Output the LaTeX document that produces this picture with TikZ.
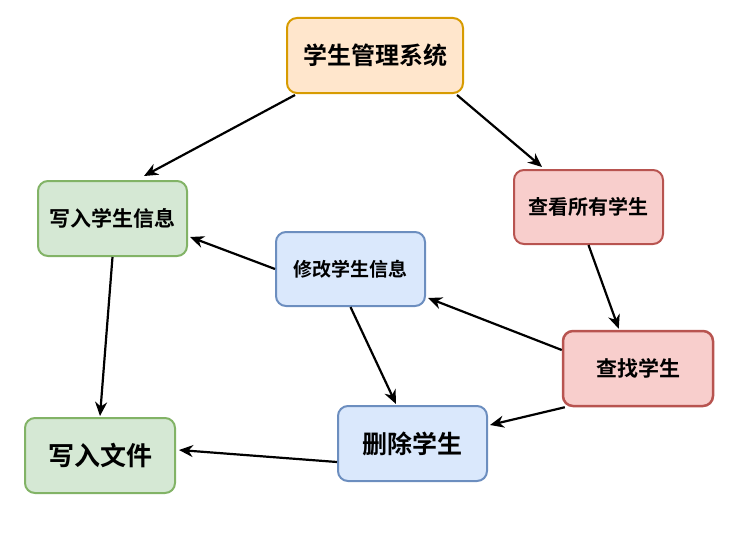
\documentclass[tikz,border=0pt]{standalone}
\usepackage{fontspec}
\newfontfamily\cjk{Noto Sans CJK SC}[BoldFont={Noto Sans CJK SC Bold}]
\usetikzlibrary{calc,arrows.meta}
\definecolor{oFill}{HTML}{FFE6CC}\definecolor{oLine}{HTML}{D79B00}
\definecolor{gFill}{HTML}{D5E8D4}\definecolor{gLine}{HTML}{82B366}
\definecolor{rFill}{HTML}{F8CECC}\definecolor{rLine}{HTML}{B85450}
\definecolor{bFill}{HTML}{DAE8FC}\definecolor{bLine}{HTML}{6C8EBF}
\tikzset{
  box/.style={draw,rounded corners=10pt,line width=2pt,minimum width=149pt,minimum height=75pt,inner sep=0pt,align=center,font=\cjk\bfseries},
  obox/.style={box,fill=oFill,draw=oLine},
  gbox/.style={box,fill=gFill,draw=gLine},
  rbox/.style={box,fill=rFill,draw=rLine},
  bbox/.style={box,fill=bFill,draw=bLine},
  arr/.style={line width=2.2pt,-{Stealth[length=14pt,width=12pt,inset=4.5pt]}}
}
\begin{document}
\begin{tikzpicture}[x=1pt,y=-1pt]
\useasboundingbox (0,0) rectangle (730,551);
\node[obox,minimum width=176pt,font=\cjk\bfseries\fontsize{24}{28}\selectfont] (sys) at (375,55.5) {学生管理系统};
\node[gbox,font=\cjk\bfseries\fontsize{21}{25}\selectfont] (wxx) at (112.5,218.5) {写入学生信息};
\node[rbox,minimum height=74pt,font=\cjk\bfseries\fontsize{20}{24}\selectfont] (ck) at (588.5,207) {查看所有学生};
\node[bbox,minimum height=74pt,font=\cjk\bfseries\fontsize{19}{23}\selectfont] (xg) at (350.5,269) {修改学生信息};
\node[rbox,minimum width=150pt,line width=2.5pt,font=\cjk\bfseries\fontsize{21}{25}\selectfont] (cz) at (638,368.5) {查找学生};
\node[bbox,font=\cjk\bfseries\fontsize{25}{29}\selectfont] (sc) at (412.5,443.5) {删除学生};
\node[gbox,minimum width=150pt,font=\cjk\bfseries\fontsize{26}{30}\selectfont] (wj) at (100,455.5) {写入文件};
\draw[arr] ($(sys.south west)+(9,1)$) -- ($(wxx.north west)+(107,-4)$);
\draw[arr] ($(sys.south east)+(-7,1)$) -- ($(ck.north west)+(29,-2)$);
\draw[arr] (ck.south) -- ($(cz.north west)+(57,-1)$);
\draw[arr] (wxx.south) -- ($(wj.north)+(0,-1)$);
\draw[arr] (xg.west) -- ($(wxx.east)+(2,18.5)$);
\draw[arr] ($(cz.west)+(0,-18.5)$) -- ($(xg.south east)+(2,-9)$);
\draw[arr] (xg.south) -- ($(sc.north west)+(59,-1)$);
\draw[arr] ($(cz.south west)+(3,0)$) -- ($(sc.east)+(2,-18.5)$);
\draw[arr] ($(sc.west)+(0,18.5)$) -- ($(wj.east)+(3,-5.5)$);
\end{tikzpicture}
\end{document}
